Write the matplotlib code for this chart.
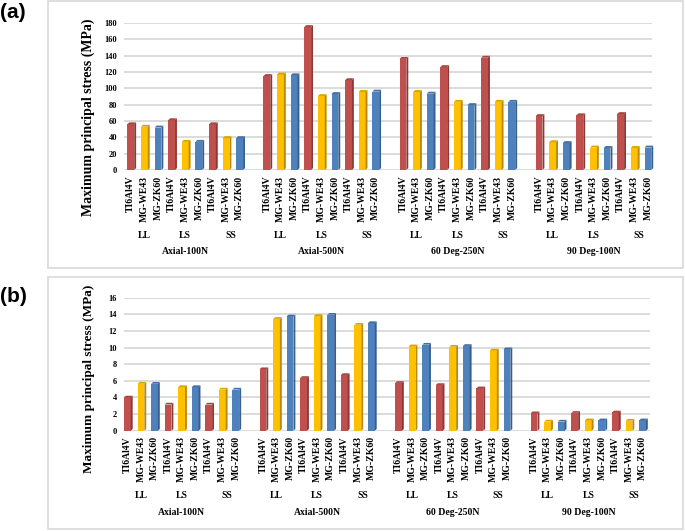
import numpy as np
import matplotlib.pyplot as plt
from matplotlib.patches import Rectangle

groups = ['Axial-100N', 'Axial-500N', '60 Deg-250N', '90 Deg-100N']
subs = ['LL', 'LS', 'SS']
materials = ['TI6Al4V', 'MG-WE43', 'MG-ZK60']

# panel (a): values per material, ordered group x (LL, LS, SS)
ti_a = [56, 61, 56, 115, 175, 110, 136, 126, 137.5, 66, 67, 68.5]
we_a = [53, 34.5, 39, 117, 90.5, 95.5, 95.5, 83.5, 83.5, 34, 27.5, 27]
zk_a = [52, 34.5, 39, 116, 93, 96, 93.5, 79.5, 83.5, 33, 27, 27.5]

# panel (b)
ti_b = [4.0, 3.15, 3.15, 7.4, 6.35, 6.7, 5.75, 5.5, 5.1, 2.1, 2.15, 2.2]
we_b = [5.65, 5.25, 4.95, 13.45, 13.8, 12.75, 10.15, 10.1, 9.65, 1.1, 1.25, 1.2]
zk_b = [5.65, 5.25, 4.95, 13.75, 13.95, 12.95, 10.35, 10.2, 9.8, 1.1, 1.25, 1.25]

faces = ['#C0504D', '#FFC000', '#4F81BD']
sides = ['#8C3836', '#B88A00', '#375E8C']
tops = ['#A64542', '#D9A300', '#44709F']

serif = 'Liberation Serif'

fig = plt.figure(figsize=(6.85, 5.31), dpi=100)
W, H = 685, 531

for y0, y1 in [(1, 268), (277, 529)]:
    fig.patches.append(Rectangle((48 / W, 1 - y1 / H), (683 - 48) / W, (y1 - y0) / H,
                                 transform=fig.transFigure, fill=False,
                                 edgecolor='#d9d9d9', lw=1.2))


def draw(ax, data, ymax, step, xlim):
    w = 0.5
    dx = 0.14
    dy = ymax * 0.013
    for m, vals in enumerate(data):
        xs = [g * 10 + s * 3 + m for g in range(4) for s in range(3)]
        ax.bar(xs, vals, width=w, color=faces[m], zorder=3, lw=0)
        for x, v in zip(xs, vals):
            l, r = x - w / 2, x + w / 2
            ax.fill([r, r + dx, r + dx, r], [0, dy, v + dy, v],
                    color=sides[m], lw=0, zorder=3, clip_on=False)
            ax.fill([l, l + dx, r + dx, r], [v, v + dy, v + dy, v],
                    color=tops[m], lw=0, zorder=3, clip_on=False)
    ax.set_ylim(0, ymax)
    ax.set_xlim(*xlim)
    ax.set_yticks(range(0, ymax + 1, step))
    ax.yaxis.grid(True, color='#d9d9d9', lw=1.3)
    ax.set_axisbelow(True)
    for sp in ax.spines.values():
        sp.set_visible(False)
    ticks = [g * 10 + s * 3 + m for g in range(4) for s in range(3) for m in range(3)]
    ax.set_xticks(ticks)
    ax.set_xticklabels(materials * 12, rotation=90, fontsize=7,
                       fontweight='bold', family=serif)
    ax.tick_params(axis='x', length=0, pad=4)
    ax.tick_params(axis='y', length=0, pad=5)
    for lab in ax.get_yticklabels():
        lab.set_fontsize(6)
        lab.set_fontweight('bold')
        lab.set_family(serif)
    for g in range(4):
        for s in range(3):
            cx = g * 10 + s * 3 + 1 + (0.35 if s == 2 else 0)
            ax.annotate(subs[s], xy=(cx, 0), xycoords=('data', 'axes fraction'),
                        xytext=(0, -47), textcoords='offset points',
                        ha='center', va='center', fontsize=7,
                        fontweight='bold', family=serif)
        ax.annotate(groups[g], xy=(g * 10 + 4, 0), xycoords=('data', 'axes fraction'),
                    xytext=(0, -59), textcoords='offset points',
                    ha='center', va='center', fontsize=7,
                    fontweight='bold', family=serif)


ax_a = fig.add_axes([124 / W, 1 - 170 / H, 528 / W, 147 / H])
draw(ax_a, [ti_a, we_a, zk_a], 180, 20, (-0.5, 38.3))

ax_b = fig.add_axes([124 / W, 1 - 430.7 / H, 526 / W, 133 / H])
draw(ax_b, [ti_b, we_b, zk_b], 16, 2, (-0.25, 38.55))

fig.text(88 / W, 1 - 117.5 / H, 'Maximum principal stress (MPa)', rotation=90,
         ha='center', va='center', fontsize=10, fontweight='bold', family=serif)
fig.text(89 / W, 1 - 379 / H, 'Maximum principal stress (MPa)', rotation=90,
         ha='center', va='center', fontsize=9.5, fontweight='bold', family=serif)

fig.text(13 / W, 1 - 12 / H, '(a)', ha='center', va='center', fontsize=15,
         fontweight='bold', family='Liberation Sans')
fig.text(13 / W, 1 - 297 / H, '(b)', ha='center', va='center', fontsize=15,
         fontweight='bold', family='Liberation Sans')

fig.savefig('out.png', dpi=100)
